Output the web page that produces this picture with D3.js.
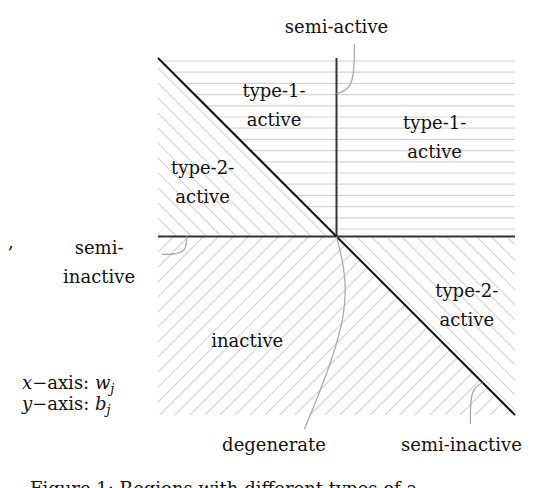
<!DOCTYPE html>
<html><head><meta charset="utf-8">
<script src="https://cdn.jsdelivr.net/npm/d3@7"></script>
<style>body{margin:0;background:#fff}text{font-family:"DejaVu Serif",serif;font-size:18px;fill:#111}</style>
</head><body>
<script>
var W = 548, H = 488;
// plot square in data coords [-1,1]
var x = d3.scaleLinear().domain([-1, 1]).range([158, 515]);
var y = d3.scaleLinear().domain([-1, 1]).range([415, 58]);

// regions (data coords)
var hRegion = [[-1, 1], [1, 1], [1, 0], [0, 0]];
var type2Upper = [[-1, 1], [0, 0], [-1, 0]];
var type2Lower = [[0, 0], [1, 0], [1, -1]];
var inactiveRegion = [[-1, 0], [0, 0], [1, -1], [-1, -1]];

var labels = [
  { lines: ["semi-active"], at: [0, 1.14] },
  { lines: ["type-1-", "active"], at: [-0.35, 0.78] },
  { lines: ["type-1-", "active"], at: [0.55, 0.6] },
  { lines: ["type-2-", "active"], at: [-0.75, 0.35] },
  { lines: ["semi-", "inactive"], at: [-1.33, -0.1] },
  { lines: ["inactive"], at: [-0.5, -0.62] },
  { lines: ["type-2-", "active"], at: [0.73, -0.34] },
  { lines: ["degenerate"], at: [-0.35, -1.2] },
  { lines: ["semi-inactive"], at: [0.7, -1.2] }
];
var callouts = [
  [[0, 0.8], [0.1, 0.83], [0.1, 1.08]],
  [[-0.84, 0], [-0.84, -0.1], [-0.98, -0.1]],
  [[0, 0], [0.1, -0.4], [-0.18, -1.08]],
  [[0.82, -0.82], [0.75, -0.85], [0.75, -1.05]]
];

var svg = d3.select("body").append("svg").attr("width", W).attr("height", H);
var line = d3.line().x(d => x(d[0])).y(d => y(d[1]));
var poly = pts => line(pts) + "Z";

function hatch(id, pts, dir, step) {
  svg.append("clipPath").attr("id", id).append("path").attr("d", poly(pts));
  var g = svg.append("g").attr("clip-path", "url(#" + id + ")")
    .attr("stroke", "#d4d4d4").attr("stroke-width", 1.2);
  if (dir === "h") {
    d3.range(61, 240, step).forEach(function (v) {
      g.append("line").attr("x1", 150).attr("x2", 520).attr("y1", v).attr("y2", v);
    });
    return;
  }
  d3.range(-600, 700, step).forEach(function (o) {
    if (dir === "b") g.append("line").attr("x1", o).attr("y1", 0).attr("x2", o + 500).attr("y2", 500);
    else g.append("line").attr("x1", o).attr("y1", 500).attr("x2", o + 500).attr("y2", 0);
  });
}
hatch("c1", hRegion, "h", 11.2);
hatch("c2", type2Upper, "b", 15);
hatch("c3", type2Lower, "b", 15);
hatch("c4", inactiveRegion, "f", 15);

// axes
var ax = svg.append("g").attr("stroke", "#333").attr("stroke-width", 2).attr("fill", "none");
ax.append("path").attr("d", line([[-1, 0], [1, 0]]));
ax.append("path").attr("d", line([[0, 0], [0, 1]]));
ax.append("path").attr("d", line([[-1, 1], [1, -1]])).attr("stroke", "#111");

var curve = d3.line().x(d => x(d[0])).y(d => y(d[1])).curve(d3.curveBasis);
svg.selectAll(".call").data(callouts).enter().append("path")
  .attr("d", curve).attr("fill", "none").attr("stroke", "#aaa").attr("stroke-width", 1.3);

labels.forEach(function (l) {
  var t = svg.append("text").attr("text-anchor", "middle")
    .attr("x", x(l.at[0])).attr("y", y(l.at[1]));
  l.lines.forEach(function (s, i) {
    t.append("tspan").attr("x", x(l.at[0])).attr("dy", i ? 29 : 0).text(s);
  });
});

var ax2 = svg.append("text").attr("x", 22).attr("y", 389);
ax2.append("tspan").attr("font-style", "italic").text("x");
ax2.append("tspan").text("\u2212axis: ");
ax2.append("tspan").attr("font-style", "italic").text("w");
ax2.append("tspan").attr("font-style", "italic").attr("font-size", 13).attr("dy", 4).text("j");
var ax3 = svg.append("text").attr("x", 22).attr("y", 410);
ax3.append("tspan").attr("font-style", "italic").text("y");
ax3.append("tspan").text("\u2212axis: ");
ax3.append("tspan").attr("font-style", "italic").text("b");
ax3.append("tspan").attr("font-style", "italic").attr("font-size", 13).attr("dy", 4).text("j");

svg.append("text").attr("x", 30).attr("y", 495).text("Figure 1: Regions with different types of a");
svg.append("text").attr("x", 8).attr("y", 248).text(",");
</script>
</body></html>
